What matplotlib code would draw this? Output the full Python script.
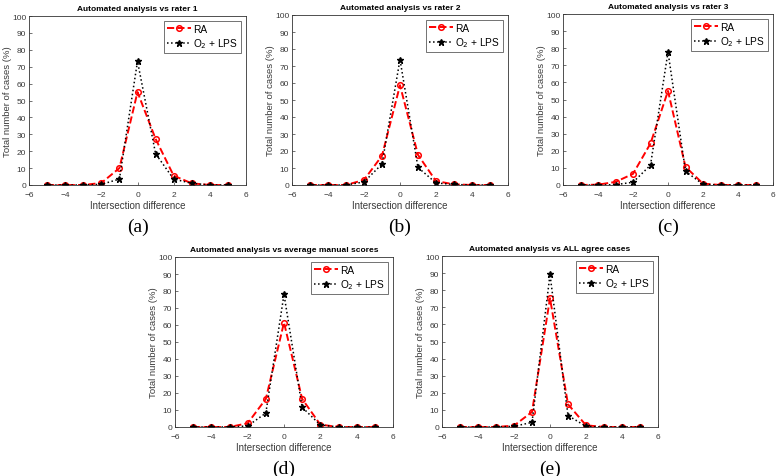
import matplotlib
matplotlib.use("Agg")
import matplotlib.pyplot as plt
import numpy as np

x = [-5, -4, -3, -2, -1, 0, 1, 2, 3, 4, 5]

titles = [
    "Automated analysis vs rater 1",
    "Automated analysis vs rater 2",
    "Automated analysis vs rater 3",
    "Automated analysis vs average manual scores",
    "Automated analysis vs ALL agree cases",
]
sub_labels = ["(a)", "(b)", "(c)", "(d)", "(e)"]

ra_a = [0, 0, 0, 1.2, 10, 55, 27.3, 5.5, 1, 0, 0]
o2_a = [0, 0, 0, 0.4, 3.5, 73.2, 18.5, 3.5, 1, 0, 0]
ra_b = [0, 0, 0, 3, 17.2, 58.7, 17.7, 2.3, 0.4, 0, 0]
o2_b = [0, 0, 0, 1.8, 12.3, 73.8, 10.3, 1.2, 0.3, 0, 0]
ra_c = [0, 0.2, 1.8, 6.5, 24.3, 55, 10.6, 0.8, 0, 0, 0]
o2_c = [0, 0, 0.2, 1.6, 11.6, 77.8, 8, 0.4, 0, 0, 0]
ra_d = [0, 0, 0, 2.2, 16.5, 61.4, 16.5, 1.4, 0, 0, 0]
o2_d = [0, 0, 0, 0.6, 8.2, 78, 11.6, 1.2, 0, 0, 0]
ra_e = [0, 0, 0, 0.8, 8.8, 75.3, 13.3, 1, 0, 0, 0]
o2_e = [0, 0, 0, 0.4, 2.7, 89.2, 6.7, 0.4, 0, 0, 0]

ra_series = [ra_a, ra_b, ra_c, ra_d, ra_e]
o2_series = [o2_a, o2_b, o2_c, o2_d, o2_e]

W, H = 776, 477
# axes boxes in pixels: left, right, top, bottom
boxes = [
    (29, 246, 17, 186),
    (292, 508, 16, 186),
    (563, 773, 15, 186),
    (175, 393, 258, 428),
    (442, 658, 257, 428),
]

plt.rcParams['font.family'] = ['Liberation Sans', 'DejaVu Sans']
fig = plt.figure(figsize=(W / 100, H / 100), dpi=100)

tick_col = '#3a3a3a'
for i, (l, r, t, b) in enumerate(boxes):
    ax = fig.add_axes([l / W, 1 - b / H, (r - l) / W, (b - t) / H])
    ax.plot(x, ra_series[i], color='red', linestyle='--', linewidth=1.4,
            marker='o', markersize=4, markerfacecolor='none',
            markeredgecolor='red', markeredgewidth=1.1, label='RA')
    ax.plot(x, o2_series[i], color='black', linestyle=':', linewidth=1.1,
            marker='*', markersize=5, markerfacecolor='black',
            markeredgecolor='black', label='O$_2$ + LPS')
    ax.set_xlim(-6, 6)
    ax.set_ylim(0, 100)
    ax.set_xticks([-6, -4, -2, 0, 2, 4, 6])
    ax.set_yticks(np.arange(0, 101, 10))
    ax.tick_params(labelsize=6, colors=tick_col, length=2, width=0.5,
                   direction='in')
    ax.tick_params(axis='x', pad=4)
    ax.tick_params(axis='y', pad=2)
    for s in ax.spines.values():
        s.set_linewidth(0.6)
        s.set_color('#333333')
    ax.set_title(titles[i], fontsize=6, fontweight='bold', pad=4)
    ax.set_xlabel('Intersection difference', fontsize=7, color=tick_col, labelpad=2)
    ax.set_ylabel('Total number of cases (%)', fontsize=6.8, color=tick_col, labelpad=0)
    leg = ax.legend(loc='upper right', fontsize=7.3, frameon=True, fancybox=False,
                    edgecolor='#333333', handlelength=2.4, borderpad=0.3,
                    labelspacing=0.3, handletextpad=0.2, borderaxespad=0.45)
    leg.get_frame().set_linewidth(0.6)
    cx = (l + r) / 2 / W
    fig.text(cx, 1 - (b + 41) / H, sub_labels[i], ha='center', va='center',
             fontsize=14, family='Liberation Serif')

fig.savefig('out.png', dpi=100)
